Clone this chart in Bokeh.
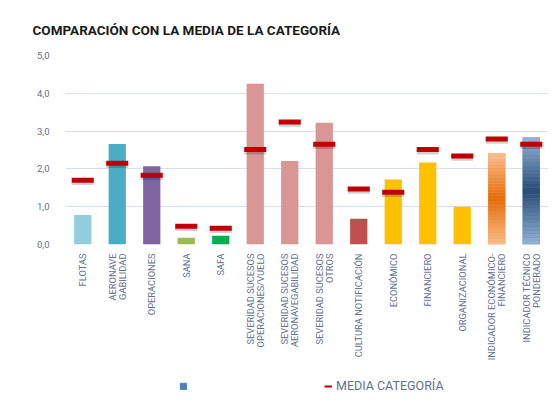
import math
from bokeh.plotting import figure
from bokeh.layouts import column
from bokeh.models import FactorRange, Range1d, Legend, LegendItem, ColumnDataSource, FixedTicker
from bokeh.core.properties import value
from bokeh.embed import file_html
from bokeh.resources import INLINE

categories = [
    "FLOTAS",
    "AERONAVEGABILIDAD",
    "OPERACIONES",
    "SANA",
    "SAFA",
    "SEVERIDAD SUCESOS OPERACIONES/VUELO",
    "SEVERIDAD SUCESOS AERONAVEGABILIDAD",
    "SEVERIDAD SUCESOS OTROS",
    "CULTURA NOTIFICACIÓN",
    "ECONÓMICO",
    "FINANCIERO",
    "ORGANIZACIONAL",
    "INDICADOR ECONÓMICO-FINANCIERO",
    "INDICADOR TÉCNICO PONDERADO",
]
# category labels as wrapped in the chart (one list of lines per category)
category_lines = [
    ["FLOTAS"],
    ["AERONAVE", "GABILIDAD"],
    ["OPERACIONES"],
    ["SANA"],
    ["SAFA"],
    ["SEVERIDAD SUCESOS", "OPERACIONES/VUELO"],
    ["SEVERIDAD SUCESOS", "AERONAVEGABILIDAD"],
    ["SEVERIDAD SUCESOS", "OTROS"],
    ["CULTURA NOTIFICACIÓN"],
    ["ECONÓMICO"],
    ["FINANCIERO"],
    ["ORGANIZACIONAL"],
    ["INDICADOR ECONÓMICO-", "FINANCIERO"],
    ["INDICADOR TÉCNICO", "PONDERADO"],
]
values = [0.78, 2.66, 2.07, 0.18, 0.23, 4.25, 2.21, 3.22, 0.68, 1.72, 2.17, 1.00, 2.42, 2.83]
media = [1.70, 2.15, 1.83, 0.48, 0.43, 2.51, 3.24, 2.65, 1.47, 1.38, 2.51, 2.34, 2.79, 2.65]
bar_colors = ["#92CDDC", "#4BACC6", "#8064A2", "#9BBB59", "#00B050",
              "#D99694", "#D99694", "#D99694", "#C0504D",
              "#FFC000", "#FFC000", "#FFC000", "#F79646", "#4F81BD"]
# gradient (edge, centre) for the two indicator bars
gradients = {12: ("#FAC090", "#E46C0A"), 13: ("#95B3D7", "#2A4B74")}
y_ticks = [0, 1, 2, 3, 4, 5]
y_tick_labels = ["0,0", "1,0", "2,0", "3,0", "4,0", "5,0"]

LABEL_COLOR = "#5f6f8f"
W, LEFT, RIGHT = 554, 65, 6

xr = FactorRange(*categories, range_padding=0)
p = figure(x_range=xr, y_range=Range1d(0, 5),
           width=W, height=252, output_backend="svg", toolbar_location=None,
           min_border_left=LEFT, min_border_right=RIGHT, min_border_top=55, min_border_bottom=8)
p.outline_line_color = None
p.background_fill_color = "white"
p.border_fill_color = "white"

p.title.text = "COMPARACIÓN CON LA MEDIA DE LA CATEGORÍA"
p.title.text_font = "Roboto"
p.title.text_font_size = "13.5px"
p.title.text_font_style = "bold"
p.title.text_color = "#1a1a1a"
p.title.align = "left"
p.title.offset = -33
p.title.standoff = 36

src = ColumnDataSource(dict(x=categories, top=values, color=bar_colors, media=media))
p.vbar(x="x", top="top", width=0.5, color="color", line_color=None, source=src)

def hex2rgb(h):
    h = h.lstrip("#")
    return tuple(int(h[i:i + 2], 16) for i in (0, 2, 4))

def lerp(c1, c2, t):
    a, b = hex2rgb(c1), hex2rgb(c2)
    return "#%02x%02x%02x" % tuple(int(round(a[k] + (b[k] - a[k]) * t)) for k in range(3))

N = 30
gx, gb, gt, gc = [], [], [], []
for idx, (edge, centre) in gradients.items():
    v = values[idx]
    for i in range(N):
        t = abs((i + 0.5) / N - 0.5) * 2
        gx.append(categories[idx])
        gb.append(v * i / N)
        gt.append(v * (i + 1) / N)
        gc.append(lerp(centre, edge, t))
p.vbar(x=gx, bottom=gb, top=gt, width=0.5, color=gc, line_color=None)

# media markers with a soft shadow
shadow = ColumnDataSource(dict(x=categories, y=[m - 0.06 for m in media]))
p.rect(x="x", y="y", width=0.64, height=5, height_units="screen", color="#000000",
       alpha=0.18, line_color=None, source=shadow)
p.rect(x="x", y="media", width=0.64, height=5, height_units="screen", color="#C00000",
       line_color=None, source=src)

# grid / axes
p.xgrid.grid_line_color = None
p.ygrid.grid_line_color = "#D5E1F0"
p.ygrid.grid_line_width = 1
p.yaxis.ticker = FixedTicker(ticks=y_ticks)
p.yaxis.major_label_overrides = {t: l for t, l in zip(y_ticks, y_tick_labels)}
p.yaxis.axis_line_color = None
p.yaxis.major_tick_line_color = None
p.yaxis.minor_tick_line_color = None
p.yaxis.major_label_text_font = "Roboto"
p.yaxis.major_label_text_font_size = "9.5px"
p.yaxis.major_label_text_color = LABEL_COLOR
p.yaxis.major_label_standoff = 10
p.xaxis.visible = False

# lower panel: rotated wrapped category labels + legend
H2 = 157
p2 = figure(x_range=xr, y_range=Range1d(0, H2), width=W, height=H2,
            output_backend="svg", toolbar_location=None,
            min_border_left=LEFT, min_border_right=RIGHT, min_border_top=0, min_border_bottom=0)
p2.outline_line_color = None
p2.axis.visible = False
p2.grid.visible = False
p2.border_fill_color = "white"

LINE_GAP = 10
lx, ly, lt, lo = [], [], [], []
for i, lines in enumerate(category_lines):
    n = len(lines)
    for j, line in enumerate(lines):
        lx.append(categories[i])
        ly.append(H2 - 1)
        lt.append(line)
        lo.append((j - (n - 1) / 2) * LINE_GAP)
p2.text(x=lx, y=ly, text=lt, x_offset=lo, angle=math.pi / 2,
        text_align="right", text_baseline="middle",
        text_font=value("Roboto"), text_font_size=value("9.3px"), text_color=LABEL_COLOR)

# hidden renderers that only feed the legend glyphs
leg_bar = p2.vbar(x="x", top="top", width=0.5, color="color", source=src, visible=False)
leg_line = p2.line(x="x", y="media", line_color="#C00000", line_width=2, source=src, visible=False)
legend = Legend(items=[LegendItem(label=" ", renderers=[leg_bar], index=13),
                       LegendItem(label="MEDIA CATEGORÍA", renderers=[leg_line])],
                orientation="horizontal", location=(114, 16),
                border_line_alpha=0, background_fill_alpha=0,
                inactive_fill_alpha=0,
                label_text_font="Roboto", label_text_font_size="12.5px",
                label_text_color=LABEL_COLOR, glyph_width=8, glyph_height=8,
                label_standoff=4, spacing=113, padding=0, margin=0)
p2.add_layout(legend, "center")

layout = column(p, p2, spacing=0)
open("out.html", "w").write(file_html(layout, INLINE))
